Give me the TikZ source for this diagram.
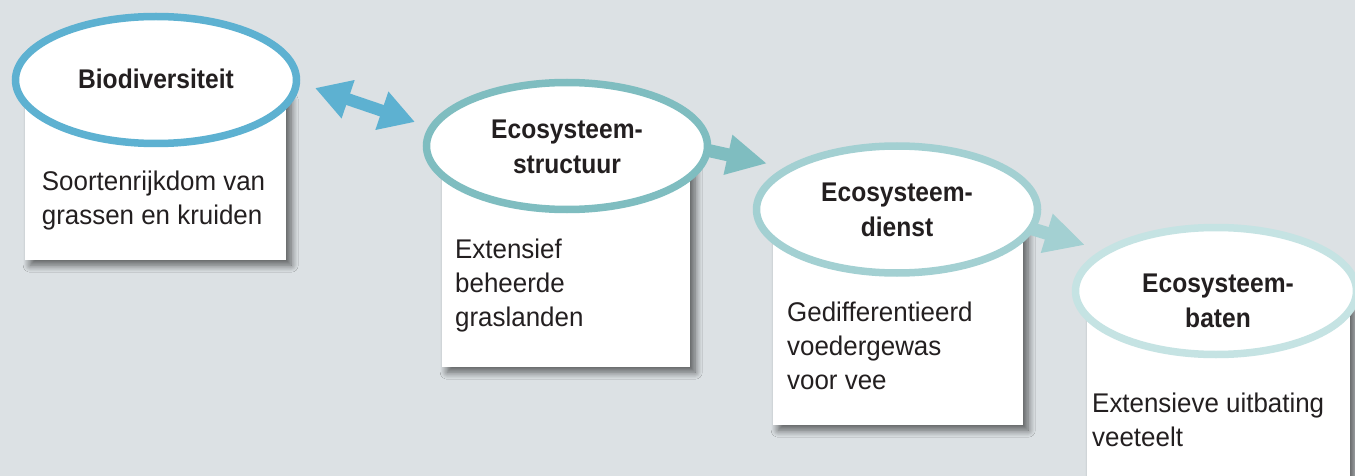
\documentclass[tikz,border=0pt]{standalone}
\usepackage{fontspec}
\setmainfont{Liberation Sans}[FakeStretch=0.96]
\newfontfamily\titlefont{Liberation Sans}[FakeStretch=0.91]
\usetikzlibrary{shapes.geometric,arrows.meta,shadows.blur}
\definecolor{bg}{HTML}{DCE1E4}
\definecolor{ink}{HTML}{231F20}
\definecolor{cone}{HTML}{5DB1D1}
\definecolor{ctwo}{HTML}{7FBDC0}
\definecolor{cthree}{HTML}{A3D0D2}
\definecolor{cfour}{HTML}{C5E3E3}
\begin{document}
\begin{tikzpicture}[x=1pt,y=-1pt,
  card/.style={fill=white, inner sep=0pt, anchor=north west,
    blur shadow={shadow xshift=5pt, shadow yshift=-5pt, shadow blur radius=7pt, shadow blur steps=12, shadow opacity=60}},
  bubble/.style={ellipse, fill=white, line width=7.5pt, minimum width=281pt, minimum height=127pt, inner sep=0pt},
  title/.style={font=\titlefont\bfseries\fontsize{27}{35}\selectfont, align=center, anchor=base, text=ink, inner sep=0pt},
  body/.style={font=\fontsize{27}{34}\selectfont, align=left, anchor=base west, text=ink, inner sep=0pt},
  flow/.style={line width=13pt, -{Triangle[length=40pt,width=38pt]}},
  dflow/.style={line width=12pt, {Triangle[length=35pt,width=38pt]}-{Triangle[length=35pt,width=38pt]}},
]
\useasboundingbox (0,0) rectangle (1355,476);
\clip (0,0) rectangle (1355,476);
\fill[bg] (0,0) rectangle (1355,476);

% cards
\node[card, minimum width=261pt, minimum height=165pt] (b1) at (25,95) {};
\node[card, minimum width=248pt, minimum height=206pt] (b2) at (442,161) {};
\node[card, minimum width=250pt, minimum height=201pt] (b3) at (773,224) {};
\node[card, minimum width=263pt, minimum height=200pt] (b4) at (1087,306) {};

% arrow anchor points
\coordinate (a1s) at (315,88);
\coordinate (a1e) at (415,122);
\coordinate (a2s) at (695,147.5);
\coordinate (a2t) at (767,163.5);
\coordinate (a3s) at (1018,224.5);
\coordinate (a3t) at (1085,245);

\draw[flow, draw=ctwo, fill=ctwo] (a2s) -- (a2t);
\draw[flow, draw=cthree, fill=cthree] (a3s) -- (a3t);
\draw[dflow, draw=cone, fill=cone] (a1s) -- (a1e);

% ellipses
\node[bubble, draw=cone] (e1) at (156,80) {};
\node[bubble, draw=ctwo] (e2) at (567,146) {};
\node[bubble, draw=cthree] (e3) at (897,209.5) {};
\node[bubble, draw=cfour] (e4) at (1216,291) {};

% titles (anchor = baseline of last line)
\node[title] (t1) at (156,88.3) {Biodiversiteit};
\node[title] (t2) at (567,173.3) {Ecosysteem-\\structuur};
\node[title] (t3) at (897,236.7) {Ecosysteem-\\dienst};
\node[title] (t4) at (1218,327) {Ecosysteem-\\baten};

% body texts (anchor = baseline of last line)
\node[body] (x1) at (41.7,224.8) {Soortenrijkdom van\\grassen en kruiden};
\node[body] (x2) at (455,326) {Extensief\\beheerde\\graslanden};
\node[body] (x3) at (787,389.5) {Gedifferentieerd\\voedergewas\\voor vee};
\node[body] (x4) at (1092,446) {Extensieve uitbating\\veeteelt};
\end{tikzpicture}
\end{document}
